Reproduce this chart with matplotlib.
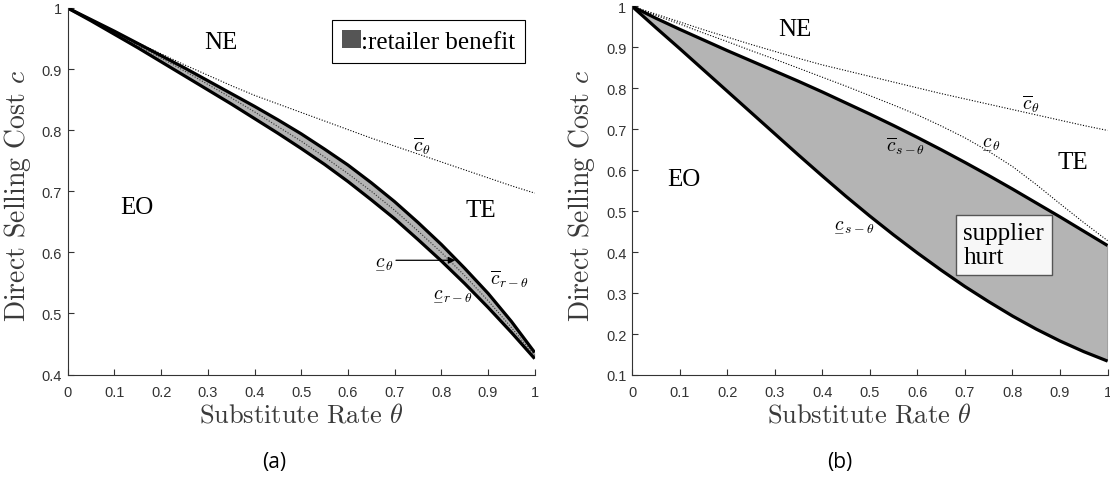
import matplotlib
matplotlib.use("Agg")
import matplotlib.pyplot as plt
from matplotlib.patches import Patch
from matplotlib.ticker import FormatStrFormatter

plt.rcParams['mathtext.fontset'] = 'cm'
plt.rcParams['font.family'] = ['Liberation Sans', 'DejaVu Sans']

# ---- data ----
theta = [0.0, 0.05, 0.1, 0.15, 0.2, 0.25, 0.3, 0.35, 0.4, 0.45, 0.5,
         0.55, 0.6, 0.65, 0.7, 0.75, 0.8, 0.85, 0.9, 0.95, 1.0]
x_ticks = [0, 0.1, 0.2, 0.3, 0.4, 0.5, 0.6, 0.7, 0.8, 0.9, 1]

# shared dotted upper bound
c_bar_theta = [1.000, 0.981, 0.962, 0.943, 0.925, 0.907, 0.890, 0.873, 0.857, 0.843, 0.829,
               0.815, 0.801, 0.787, 0.774, 0.761, 0.748, 0.735, 0.722, 0.709, 0.697]

# panel (a)
c_bar_r = [1.000, 0.981, 0.962, 0.942, 0.922, 0.902, 0.881, 0.860, 0.839, 0.817, 0.794,
           0.769, 0.743, 0.714, 0.683, 0.649, 0.613, 0.574, 0.533, 0.487, 0.436]
c_low_r = [1.000, 0.979, 0.957, 0.935, 0.912, 0.889, 0.866, 0.843, 0.819, 0.795, 0.770,
           0.744, 0.716, 0.686, 0.655, 0.621, 0.586, 0.549, 0.510, 0.469, 0.426]
c_low_theta_a = [1.000, 0.980, 0.960, 0.939, 0.918, 0.897, 0.875, 0.853, 0.830, 0.806, 0.782,
                 0.756, 0.729, 0.700, 0.669, 0.635, 0.600, 0.562, 0.521, 0.477, 0.431]

# panel (b)
c_low_theta_b = [1.000, 0.978, 0.957, 0.935, 0.914, 0.892, 0.871, 0.849, 0.827, 0.805, 0.782,
                 0.759, 0.735, 0.708, 0.679, 0.646, 0.609, 0.565, 0.518, 0.472, 0.428]
c_bar_s = [1.000, 0.971, 0.944, 0.918, 0.892, 0.867, 0.842, 0.817, 0.791, 0.764, 0.737,
           0.709, 0.680, 0.650, 0.619, 0.587, 0.554, 0.520, 0.486, 0.451, 0.416]
c_low_s = [1.000, 0.948, 0.897, 0.845, 0.793, 0.741, 0.689, 0.637, 0.586, 0.536, 0.488,
           0.442, 0.398, 0.356, 0.316, 0.279, 0.244, 0.212, 0.183, 0.157, 0.134]

FILL = '#b4b4b4'
TXT = '#333333'
SERIF = 'Liberation Serif'

fig = plt.figure(figsize=(11.1, 4.81), dpi=100)
ax1 = fig.add_axes([0.061, 0.2193, 0.4207, 0.762])
ax2 = fig.add_axes([0.5694, 0.2183, 0.4284, 0.7665])


def style_axes(ax, ylo, ylab_x):
    ax.set_xlim(0, 1)
    ax.set_ylim(ylo, 1)
    ax.set_xticks(x_ticks)
    ax.xaxis.set_major_formatter(FormatStrFormatter('%g'))
    ax.yaxis.set_major_formatter(FormatStrFormatter('%g'))
    for s in ['top', 'right']:
        ax.spines[s].set_visible(False)
    for s in ['left', 'bottom']:
        ax.spines[s].set_color(TXT)
        ax.spines[s].set_linewidth(0.8)
    ax.tick_params(direction='in', length=4, width=0.8, colors=TXT, labelsize=10.5)
    ax.tick_params(axis='x', pad=7.5)
    ax.tick_params(axis='y', pad=4)
    ax.set_xlabel(r'Substitute Rate $\theta$', fontfamily='cmr10',
                  fontsize=19, color='#3a3a3a')
    ax.set_ylabel(r'Direct Selling Cost $c$', fontfamily='cmr10',
                  fontsize=20, color='#3a3a3a')
    ax.xaxis.set_label_coords(0.5, -0.075)
    ax.yaxis.set_label_coords(ylab_x, 0.49)


# ---- (a) ----
style_axes(ax1, 0.4, -0.075)
ax1.set_yticks([0.4, 0.5, 0.6, 0.7, 0.8, 0.9, 1.0])
ax1.fill_between(theta, c_low_r, c_bar_r, color=FILL, lw=0)
ax1.plot(theta, c_bar_theta, color='k', lw=0.8, ls=(0, (1, 1.5)))
ax1.plot(theta, c_low_theta_a, color='#333333', lw=0.8, ls=(0, (1, 1.5)))
ax1.plot(theta, c_bar_r, color='k', lw=2.3, solid_capstyle='butt')
ax1.plot(theta, c_low_r, color='k', lw=2.3, solid_capstyle='butt')

ax1.text(0.327, 0.944, 'NE', fontname=SERIF, fontsize=18, ha='center', va='center')
ax1.text(0.148, 0.674, 'EO', fontname=SERIF, fontsize=18, ha='center', va='center')
ax1.text(0.885, 0.669, 'TE', fontname=SERIF, fontsize=18, ha='center', va='center')
ax1.text(0.759, 0.775, r'$\overline{c}_{\theta}$', fontsize=14, ha='center', va='center')
ax1.text(0.824, 0.535, r'$\underset{-}{c}_{r-\theta}$', fontsize=14, ha='center', va='center')
ax1.text(0.945, 0.557, r'$\overline{c}_{r-\theta}$', fontsize=14, ha='center', va='center')
ax1.annotate(r'$\underset{-}{c}_{\theta}$', xy=(0.83, 0.587), xytext=(0.676, 0.587),
             fontsize=14, ha='center', va='center',
             arrowprops=dict(arrowstyle='-|>', color='k', lw=0.9,
                             shrinkA=0, shrinkB=0, mutation_scale=10))

leg = ax1.legend(handles=[Patch(facecolor='#555555', edgecolor='none')],
                 labels=[':retailer benefit'], loc='upper right',
                 bbox_to_anchor=(0.979, 0.967), borderaxespad=0,
                 prop={'family': SERIF, 'size': 18},
                 handlelength=0.75, handleheight=0.75, handletextpad=0.0,
                 borderpad=0.4, fancybox=False, framealpha=1)
leg.get_frame().set_edgecolor('k')
leg.get_frame().set_linewidth(0.8)

# ---- (b) ----
style_axes(ax2, 0.1, -0.074)
ax2.set_yticks([0.1, 0.2, 0.3, 0.4, 0.5, 0.6, 0.7, 0.8, 0.9, 1.0])
ax2.fill_between(theta, c_low_s, c_bar_s, color=FILL, lw=0)
ax2.plot([theta[-1], theta[-1]], [c_low_s[-1], c_bar_s[-1]], color='#555555', lw=1)
ax2.plot(theta, c_bar_theta, color='k', lw=0.8, ls=(0, (1, 1.5)))
ax2.plot(theta, c_low_theta_b, color='k', lw=0.8, ls=(0, (1, 1.5)))
ax2.plot(theta, c_bar_s, color='k', lw=2.3, solid_capstyle='butt')
ax2.plot(theta, c_low_s, color='k', lw=2.3, solid_capstyle='butt')

ax2.text(0.343, 0.945, 'NE', fontname=SERIF, fontsize=18, ha='center', va='center')
ax2.text(0.108, 0.579, 'EO', fontname=SERIF, fontsize=18, ha='center', va='center')
ax2.text(0.927, 0.62, 'TE', fontname=SERIF, fontsize=18, ha='center', va='center')
ax2.text(0.838, 0.762, r'$\overline{c}_{\theta}$', fontsize=14, ha='center', va='center')
ax2.text(0.754, 0.672, r'$\underset{-}{c}_{\theta}$', fontsize=14, ha='center', va='center')
ax2.text(0.576, 0.660, r'$\overline{c}_{s-\theta}$', fontsize=14, ha='center', va='center')
ax2.text(0.466, 0.470, r'$\underset{-}{c}_{s-\theta}$', fontsize=14, ha='center', va='center')
ax2.text(0.697, 0.417, 'supplier\nhurt', fontname=SERIF, fontsize=18,
         ha='left', va='center', linespacing=1.1,
         bbox=dict(boxstyle='square,pad=0.3', facecolor='#f7f7f7', edgecolor='#555555', lw=1))

fig.text(274 / 1110, 1 - 463 / 481, '(a)', fontfamily=['Open Sans', 'DejaVu Sans'],
         fontsize=15, ha='center', va='center')
fig.text(840 / 1110, 1 - 463 / 481, '(b)', fontfamily=['Open Sans', 'DejaVu Sans'],
         fontsize=15, ha='center', va='center')

fig.savefig('out.png', dpi=100)
